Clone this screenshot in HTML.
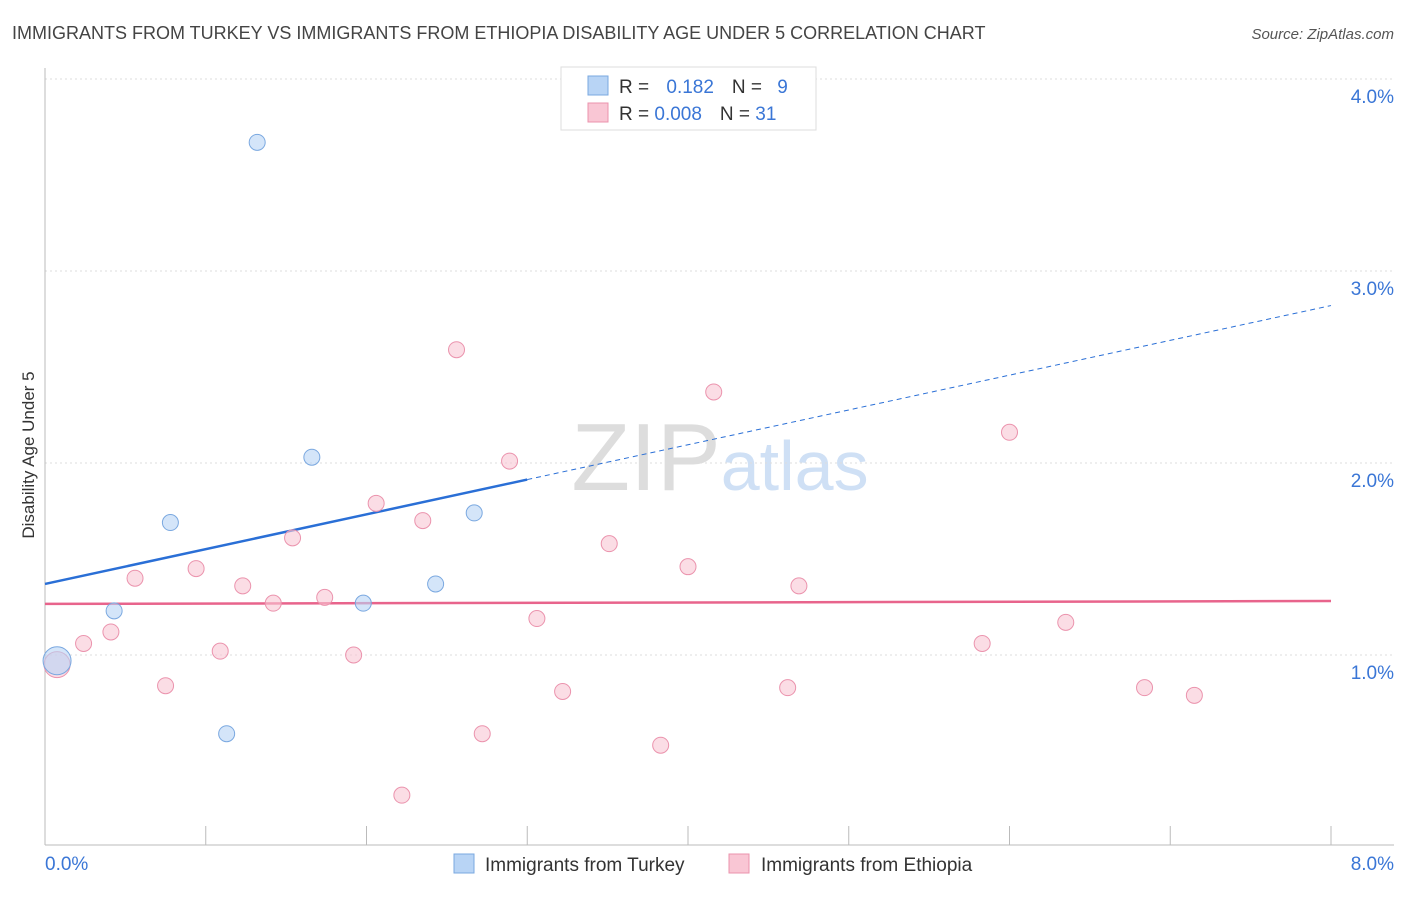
<!DOCTYPE html>
<html><head><meta charset="utf-8"><style>
body{margin:0;background:#fff;font-family:"Liberation Sans",sans-serif}
svg text{font-family:"Liberation Sans",sans-serif}
</style></head><body>
<svg id="chart" width="1406" height="892" xmlns="http://www.w3.org/2000/svg">
<text x="12" y="39" font-size="18" fill="#444">IMMIGRANTS FROM TURKEY VS IMMIGRANTS FROM ETHIOPIA DISABILITY AGE UNDER 5 CORRELATION CHART</text>
<text x="1394" y="39" font-size="15" fill="#555" text-anchor="end" font-style="italic">Source: ZipAtlas.com</text>
<text x="720" y="490" font-size="96" text-anchor="middle" fill="#ddd" font-family="Liberation Serif"><tspan fill="#ddd">ZIP</tspan><tspan fill="#cfe0f5" font-family="Liberation Sans" font-size="70">atlas</tspan></text>
<g id="grid"></g>
<g id="axes"></g>
<text transform="translate(34,455) rotate(-90)" font-size="17" fill="#333" text-anchor="middle">Disability Age Under 5</text>
<g id="lines"></g>
<g id="points"></g>
<g>
<rect x="561" y="67" width="255" height="63" fill="#fff" stroke="#ddd"/>
<rect x="588" y="76" width="20" height="19" fill="#b8d4f5" stroke="#7aa8e0"/>
<rect x="588" y="103" width="20" height="19" fill="#f9c6d4" stroke="#eb93ad"/>
<text x="619" y="93" font-size="19" fill="#333">R = <tspan fill="#3a76d6" dx="12">0.182</tspan><tspan fill="#333" dx="18">N = </tspan><tspan fill="#3a76d6" dx="10">9</tspan></text>
<text x="619" y="120" font-size="19" fill="#333">R = <tspan fill="#3a76d6">0.008</tspan><tspan fill="#333" dx="18">N = </tspan><tspan fill="#3a76d6">31</tspan></text>
</g>
<g>
<rect x="454" y="854" width="20" height="19" fill="#b8d4f5" stroke="#7aa8e0"/>
<text x="485" y="871" font-size="19" fill="#333">Immigrants from Turkey</text>
<rect x="729" y="854" width="20" height="19" fill="#f9c6d4" stroke="#eb93ad"/>
<text x="761" y="871" font-size="19" fill="#333">Immigrants from Ethiopia</text>
</g>
</svg>
<script>
const turkeyX=[0.075,0.43,0.78,1.13,1.32,1.66,1.98,2.43,2.67];
const turkeyY=[0.97,1.23,1.69,0.59,3.67,2.03,1.27,1.37,1.74];
const ethX=[0.075,0.24,0.41,0.56,0.75,0.94,1.09,1.23,1.42,1.54,1.74,1.92,2.06,2.22,2.35,2.56,2.72,2.89,3.06,3.22,3.51,3.83,4.00,4.16,4.62,4.69,5.83,6.00,6.35,6.84,7.15];
const ethY=[0.95,1.06,1.12,1.40,0.84,1.45,1.02,1.36,1.27,1.61,1.30,1.00,1.79,0.27,1.70,2.59,0.59,2.01,1.19,0.81,1.58,0.53,1.46,2.37,0.83,1.36,1.06,2.16,1.17,0.83,0.79];
const yTicks=[1,2,3,4];
const yTickLabels=["1.0%","2.0%","3.0%","4.0%"];
const xTicks=[0,1,2,3,4,5,6,7,8];
const turkeyTrend=[1.37,2.82];
const ethTrend=[1.266,1.281];
const X=v=>45+v*160.75, Y=v=>847-v*192;
const NS="http://www.w3.org/2000/svg";
function mk(parent,tag,attrs){const e=document.createElementNS(NS,tag);for(const k in attrs)e.setAttribute(k,attrs[k]);parent.appendChild(e);return e;}
const grid=document.getElementById('grid'),axes=document.getElementById('axes');
yTicks.forEach((t,i)=>{
 const l=mk(grid,'line',{x1:45,x2:1394,y1:Y(t),y2:Y(t),stroke:'#ddd','stroke-dasharray':'2,3'});
 
 
 const tx=mk(axes,'text',{x:1394,y:Y(t)+24,'font-size':19,fill:'#3a76d6','text-anchor':'end'});
 tx.textContent=yTickLabels[i];
 
 
});
const topLine=mk(grid,'line',{x1:45,x2:1394,y1:79,y2:79,stroke:'#ddd','stroke-dasharray':'2,3'});


const xa=mk(axes,'line',{x1:45,x2:1394,y1:845,y2:845,stroke:'#bbb'});


const ya=mk(axes,'line',{x1:45,x2:45,y1:68,y2:845,stroke:'#bbb'});


xTicks.forEach(t=>{
 const l=mk(axes,'line',{x1:X(t),x2:X(t),y1:826,y2:845,stroke:'#bbb'});
 
 
});
const xl0=mk(axes,'text',{x:45,y:870,'font-size':19,fill:'#3a76d6'});xl0.textContent=xTicks[0].toFixed(1)+'%';


const xl1=mk(axes,'text',{x:1394,y:870,'font-size':19,fill:'#3a76d6','text-anchor':'end'});xl1.textContent=xTicks[8].toFixed(1)+'%';


const pts=document.getElementById('points');
ethX.forEach((x,i)=>{
 const c=mk(pts,'circle',{cx:X(x),cy:Y(ethY[i]),r:i==0?13:8,fill:'#f9c6d4','fill-opacity':0.6,stroke:'#eb93ad'});
 
 
});
turkeyX.forEach((x,i)=>{
 const c=mk(pts,'circle',{cx:X(x),cy:Y(turkeyY[i]),r:i==0?14:8,fill:'#b8d4f5','fill-opacity':0.6,stroke:'#7aa8e0'});
 
 
});
const lines=document.getElementById('lines');
const ty=x=>turkeyTrend[0]+(turkeyTrend[1]-turkeyTrend[0])*x/8;
const l1=mk(lines,'line',{x1:X(0),y1:Y(ty(0)),x2:X(3.0),y2:Y(ty(3.0)),stroke:'#2a6fd6','stroke-width':2.5});


const l2=mk(lines,'line',{x1:X(3.0),y1:Y(ty(3.0)),x2:X(8),y2:Y(ty(8)),stroke:'#2a6fd6','stroke-width':1,'stroke-dasharray':'5,4'});


const l3=mk(lines,'line',{x1:X(0),y1:Y(ethTrend[0]),x2:X(8),y2:Y(ethTrend[1]),stroke:'#e8648c','stroke-width':2.5});


</script>
</body></html>
